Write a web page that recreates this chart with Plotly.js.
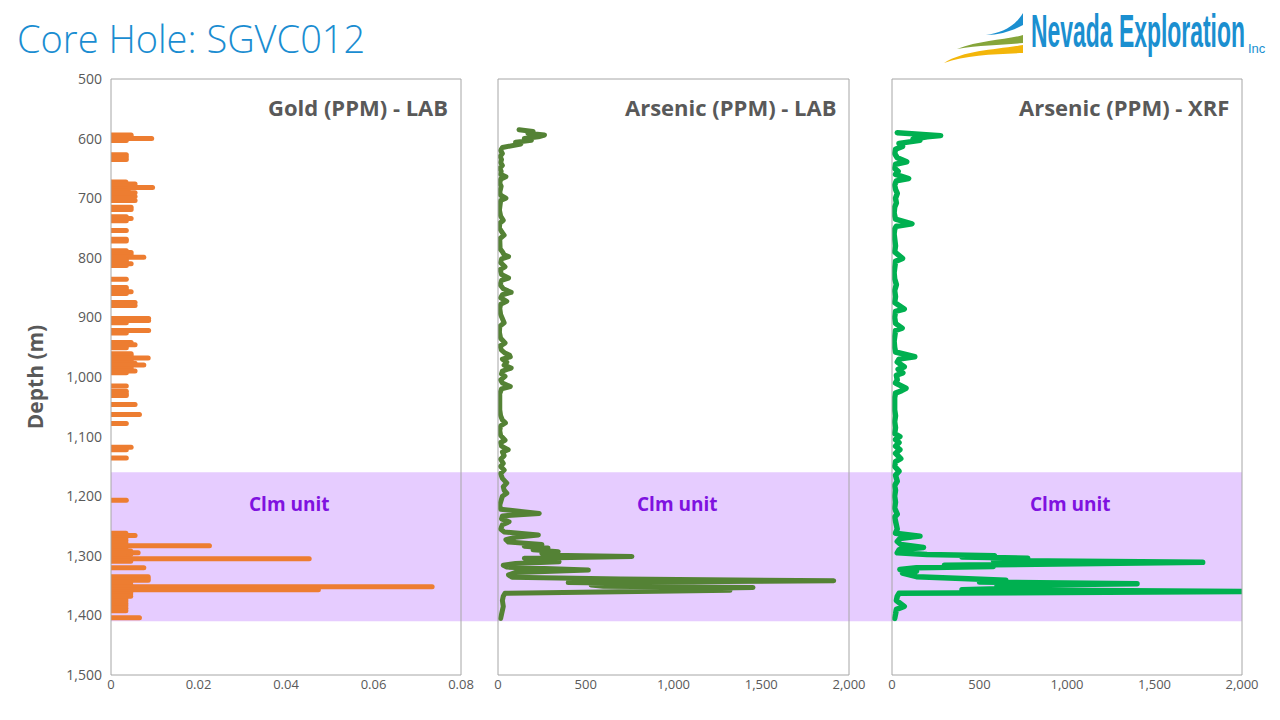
<!DOCTYPE html>
<html><head><meta charset="utf-8">
<script src="https://cdn.plot.ly/plotly-3.0.1.min.js"></script>
<style>html,body{margin:0;padding:0;background:#fff}#chart{width:1280px;height:720px}</style>
</head><body><div id="chart"></div>
<script>
// ---------- DATA ----------
const depthTicks = [500,600,700,800,900,1000,1100,1200,1300,1400,1500];
const goldTicks = [0,0.02,0.04,0.06,0.08];
const asTicks = [0,500,1000,1500,2000];
const panelTitles = ['Gold (PPM) - LAB','Arsenic (PPM) - LAB','Arsenic (PPM) - XRF'];
const unitLabel = 'Clm unit';
const unitTop = 1160, unitBottom = 1410;

// Gold (ppm) – individual assay intervals (depth m, value)
const goldDepth = [594,597,600,603, 627,631,635,
  673,676,679,682,685,688,691,694,697,700,704, 715,719, 731,734,738, 754, 769,772,
  788,791,795,799,803,806,810,813, 836, 850,853,857,860, 875,880, 902,905,909, 922,926,
  942,946,951, 961,964,968,971,974,977,980,984,987,990,993, 1015, 1024,1028,1031,
  1046, 1063, 1078, 1118,1122, 1136, 1207,
  1262,1266,1270,1274,1278,1283,1288,1292,1295,1298,1301,1305,1309, 1320,
  1335,1338,1341,1344,1348,1352,1357,1361,1364,1368,1372,1376,1380,1384,1388,1392, 1404];
const goldPpm = [0.0046,0.0046,0.0093,0.0035, 0.0035,0.0035,0.0035,
  0.0034,0.0055,0.0035,0.0095,0.004,0.0035,0.0055,0.005,0.0055,0.005,0.0055, 0.0046,0.0046, 0.0035,0.0046,0.0035, 0.0035, 0.0035,0.0035,
  0.0035,0.0046,0.0046,0.0075,0.0035,0.0035,0.0046,0.0035, 0.0035, 0.0035,0.0035,0.0046,0.0035, 0.0055,0.0055, 0.0086,0.0086,0.0035, 0.0086,0.0035,
  0.0046,0.0055,0.0035, 0.0046,0.0046,0.0085,0.0046,0.0046,0.0055,0.0075,0.0046,0.0046,0.0055,0.0035, 0.0035, 0.0035,0.0035,0.0035,
  0.0055, 0.0065, 0.0035, 0.0046,0.0035, 0.0035, 0.0035,
  0.0034,0.0055,0.0034,0.0034,0.0034,0.0225,0.0034,0.0045,0.0062,0.0045,0.0034,0.0453,0.0045, 0.0075,
  0.0085,0.0085,0.0085,0.0045,0.0045,0.0734,0.0474,0.0045,0.0045,0.0045,0.0034,0.0034,0.0034,0.0034,0.0034,0.0034, 0.0065];

// Arsenic (ppm) – lab assays
const asLabDepth = [585,588,591,594,597,600,603,606,609,612,615,620,625,630,635,640,645,650,655,660,664,668,675,680,690,695,700,704,710,720,730,737,742,750,756,762,768,775,785,790,795,798,802,808,815,820,828,834,838,845,852,858,862,867,873,878,885,895,903,909,915,925,935,943,948,955,960,963,966,970,975,980,985,990,995,999,1005,1010,1016,1020,1028,1040,1055,1065,1072,1077,1082,1090,1098,1106,1110,1116,1122,1126,1132,1138,1145,1150,1156,1162,1170,1178,1184,1190,1195,1200,1208,1215,1222,1229,1233,1238,1243,1248,1255,1260,1265,1269,1273,1277,1281,1284,1287,1290,1293,1296,1299,1301,1304,1307,1310,1313,1316,1319,1324,1328,1332,1336,1339,1342,1345,1347,1349,1351,1353,1356,1358,1361,1363,1368,1375,1385,1395,1405];
const asLab = [120,200,170,265,230,150,190,100,130,60,25,15,25,12,20,15,25,10,18,15,45,15,10,18,10,15,45,15,10,8,15,30,10,8,20,35,10,8,12,25,35,60,20,15,40,12,20,60,20,12,30,75,25,15,50,15,10,15,25,35,10,8,15,40,12,20,40,65,70,25,50,35,75,25,20,40,15,25,70,20,10,8,10,15,25,42,15,10,15,40,15,20,58,25,35,15,30,15,35,15,25,50,30,35,50,25,20,10,15,235,25,20,63,25,15,35,230,100,45,60,250,150,285,200,343,250,300,763,150,200,348,100,30,50,515,100,60,80,700,1913,400,950,530,600,1453,800,1322,200,40,30,25,30,20,15];

// Arsenic (ppm) – XRF
const asXrfDepth = [590,593,595,597,599,601,603,605,608,613,618,625,632,639,643,650,655,660,667,671,678,685,692,700,708,715,725,735,743,747,752,760,770,780,790,801,806,815,825,835,845,855,865,875,886,890,900,910,918,922,930,940,950,958,966,970,975,980,983,987,993,997,1005,1010,1019,1023,1027,1035,1045,1055,1065,1075,1085,1095,1100,1105,1110,1116,1122,1128,1137,1142,1150,1158,1165,1175,1182,1190,1200,1210,1220,1230,1235,1245,1255,1262,1267,1271,1276,1281,1286,1290,1295,1298,1300,1302,1304,1306,1308,1311,1314,1316,1318,1320,1323,1326,1329,1332,1335,1338,1341,1344,1347,1349,1351,1354,1357,1360,1363,1368,1375,1385,1390,1398,1405];
const asXrf = [30,150,278,200,160,120,160,80,40,60,20,15,30,84,20,15,35,20,95,25,15,20,30,20,25,15,12,20,114,25,15,12,15,20,15,60,20,15,12,15,25,15,20,15,70,20,15,20,58,20,15,12,15,20,130,40,30,55,70,35,62,25,30,20,80,55,20,15,12,15,20,15,20,15,45,20,40,20,45,20,50,20,15,40,20,30,15,20,15,20,15,30,15,20,30,20,160,45,30,50,180,40,30,200,585,400,775,600,580,1775,578,300,578,140,45,140,60,100,140,400,650,500,1400,770,600,770,400,2050,40,30,25,70,25,20,15];

// ---------- LAYOUT HELPERS ----------
const W = 1280, H = 720, L = 111, R = 38, T = 79, B = 45;
const PW = W - L - R, PH = H - T - B;
const px = v => (v - L) / PW;          // pixel x -> paper
const py = v => (H - B - v) / PH;      // pixel y -> paper
const panels = [[111, 461], [498, 849], [892, 1242]];
const dom = panels.map(p => [px(p[0]), px(p[1])]);

function segments(d, v) {
  const x = [], y = [];
  for (let i = 0; i < d.length; i++) { x.push(0, v[i], null); y.push(d[i], d[i], null); }
  return {x, y};
}
const gs = segments(goldDepth, goldPpm);

const traces = [
  {type:'scatter', mode:'lines', x:gs.x, y:gs.y, xaxis:'x', yaxis:'y',
   line:{color:'#ed7d31', width:5}, connectgaps:false, hoverinfo:'skip'},
  {type:'scatter', mode:'lines', x:asLab, y:asLabDepth, xaxis:'x2', yaxis:'y',
   line:{color:'#548235', width:5}, hoverinfo:'skip'},
  {type:'scatter', mode:'lines', x:asXrf, y:asXrfDepth, xaxis:'x3', yaxis:'y',
   line:{color:'#00b050', width:5.5}, hoverinfo:'skip'}
];

const tickFont = {family:'Open Sans, sans-serif', size:13, color:'#595959'};
function xAxis(i, range, ticks) {
  return {domain:dom[i], anchor:'y', range:range, tickvals:ticks, tickformat:',',
    showgrid:false, zeroline:false, showline:false, ticks:'', tickfont:tickFont, fixedrange:true};
}

// swoosh paths for the logo, in pixel coordinates
function pathPx(cmds) {
  return cmds.map(c => typeof c === 'string' ? c : (px(c[0]).toFixed(5) + ',' + py(c[1]).toFixed(5))).join(' ');
}
const swooshBlue = pathPx(['M',[986,35],'C',[1000,33],[1014,28],[1023,13],'L',[1023,25],'C',[1012,31],[1000,35],[986,35],'Z']);
const swooshGreen = pathPx(['M',[957,49],'C',[980,40],[1005,40],[1023,35],'L',[1023,43],'C',[1005,45],[980,45],[957,49],'Z']);
const swooshYellow = pathPx(['M',[944,63],'C',[965,50],[995,50],[1023,45],'L',[1023,53],'C',[995,54],[965,55],[944,63],'Z']);

const shapes = [
  {type:'rect', xref:'paper', yref:'y', x0:0, x1:1, y0:unitTop, y1:unitBottom,
   fillcolor:'#e6ccff', line:{width:0}, layer:'below'}
];
dom.forEach(d => shapes.push({type:'rect', xref:'paper', yref:'paper', x0:d[0], x1:d[1], y0:0, y1:1,
   line:{color:'#a6a6a6', width:1}, fillcolor:'rgba(0,0,0,0)', layer:'above'}));
shapes.push({type:'path', xref:'paper', yref:'paper', path:swooshBlue, fillcolor:'#1b8fd0', line:{width:0}});
shapes.push({type:'path', xref:'paper', yref:'paper', path:swooshGreen, fillcolor:'#86a53a', line:{width:0}});
shapes.push({type:'path', xref:'paper', yref:'paper', path:swooshYellow, fillcolor:'#f3b60a', line:{width:0}});

const annotations = [];
panelTitles.forEach((t, i) => annotations.push({text:t, xref:'paper', yref:'paper',
  x:px(panels[i][1] - 11), y:py(107), xanchor:'right', yanchor:'middle', showarrow:false,
  font:{family:'Open Sans, sans-serif', size:22, color:'#595959', weight:'bold'}}));
const unitCenters = [289, 677, 1070];
unitCenters.forEach(c => annotations.push({text:unitLabel, xref:'paper', yref:'y',
  x:px(c), y:1213, xanchor:'center', yanchor:'middle', showarrow:false,
  font:{family:'Open Sans, sans-serif', size:19, color:'#7f12e0', weight:'bold'}}));
// logo text
annotations.push({text:'Nevada Exploration', xref:'paper', yref:'paper', x:px(1029), y:py(31),
  xanchor:'left', yanchor:'middle', showarrow:false,
  font:{family:'Liberation Sans Narrow, Liberation Sans, sans-serif', size:46, color:'#1b8fd0', weight:'bold'}});
annotations.push({text:'Inc', xref:'paper', yref:'paper', x:px(1246), y:py(49),
  xanchor:'left', yanchor:'middle', showarrow:false,
  font:{family:'Liberation Sans Narrow, Liberation Sans, sans-serif', size:13, color:'#1b8fd0'}});
const logoIndex = annotations.length - 2;

const layout = {
  width:W, height:H, margin:{l:L, r:R, t:T, b:B, pad:0},
  paper_bgcolor:'#ffffff', plot_bgcolor:'rgba(0,0,0,0)', showlegend:false,
  font:{family:'Open Sans, sans-serif', color:'#595959'},
  title:{text:'Core Hole: SGVC012', xref:'container', yref:'container', x:17/W, xanchor:'left',
    y:1 - 40/H, yanchor:'middle', font:{family:'Open Sans, sans-serif', size:38, color:'#1a8dd1', weight:300}},
  xaxis: xAxis(0, [0, 0.08], goldTicks),
  xaxis2: xAxis(1, [0, 2000], asTicks),
  xaxis3: xAxis(2, [0, 2000], asTicks),
  yaxis:{range:[1500, 500], tickvals:depthTicks, tickformat:',', showgrid:false, zeroline:false,
    showline:false, ticks:'', ticklabelstandoff:8, tickfont:{family:'Open Sans, sans-serif', size:14, color:'#595959'},
    title:{text:'Depth (m)', standoff:16, font:{family:'Open Sans, sans-serif', size:21, color:'#595959', weight:'bold'}},
    fixedrange:true},
  shapes:shapes, annotations:annotations
};

Plotly.newPlot('chart', traces, layout, {displayModeBar:false, staticPlot:true}).then(() => {
  document.querySelectorAll('.scatterlayer path.js-line').forEach(p => {
    p.style.strokeLinecap = 'round'; p.style.strokeLinejoin = 'round';
  });
  const g = document.querySelector('.annotation[data-index="' + logoIndex + '"] text');
  if (g) {
    const bb = g.getBBox();
    const s = 214 / bb.width;
    g.setAttribute('transform', 'translate(' + (bb.x * (1 - s)) + ',0) scale(' + s + ',1)');
  }
});
</script></body></html>
